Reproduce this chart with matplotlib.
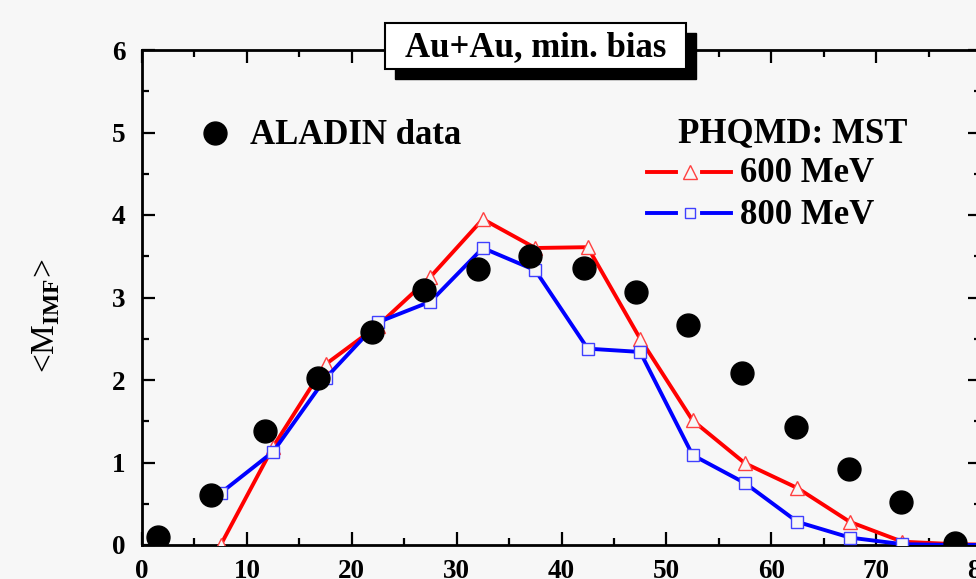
import matplotlib
matplotlib.use("Agg")
import matplotlib.pyplot as plt
from matplotlib.patches import Rectangle
from matplotlib.ticker import MultipleLocator

plt.rcParams['font.family'] = ['Liberation Serif', 'DejaVu Serif']
plt.rcParams['mathtext.fontset'] = 'custom'
plt.rcParams['mathtext.rm'] = 'Liberation Serif'
plt.rcParams['mathtext.bf'] = 'Liberation Serif:bold'

# ALADIN data
data_x = [1.5, 6.6, 11.7, 16.8, 21.9, 26.9, 32.0, 37.0, 42.1, 47.1, 52.1, 57.2, 62.4, 67.4, 72.4, 77.5]
data_y = [0.10, 0.61, 1.38, 2.02, 2.58, 3.09, 3.35, 3.50, 3.36, 3.07, 2.67, 2.08, 1.43, 0.92, 0.52, 0.02]

# PHQMD: MST
sim_x = [7.5, 12.5, 17.5, 22.5, 27.5, 32.5, 37.5, 42.5, 47.5, 52.5, 57.5, 62.5, 67.5, 72.5, 77.5, 82.5]
mev600 = [0.00, 1.19, 2.19, 2.66, 3.25, 3.95, 3.60, 3.61, 2.50, 1.51, 0.99, 0.69, 0.28, 0.04, 0.01, 0.0]
mev800 = [0.63, 1.13, 2.02, 2.70, 2.95, 3.60, 3.33, 2.38, 2.34, 1.09, 0.75, 0.28, 0.09, 0.01, 0.0, 0.0]

xticks = [0, 10, 20, 30, 40, 50, 60, 70, 80]
yticks = [0, 1, 2, 3, 4, 5, 6]

W, H = 976, 579
bg = '#f7f7f7'
fig = plt.figure(figsize=(W / 100, H / 100), dpi=100, facecolor=bg)
ax = fig.add_axes([142 / W, 1 - 545 / H, 839 / W, 495 / H])
ax.set_facecolor(bg)

ax.plot(sim_x, mev600, '-', color='#ff0000', lw=2.8, marker='^', ms=10,
        mfc=bg, mec='#ff4040', mew=1.0, zorder=3)
ax.plot(sim_x, mev800, '-', color='#0000ff', lw=2.8, marker='s', ms=8,
        mfc=bg, mec='#4040ff', mew=1.0, zorder=3)
ax.plot(data_x, data_y, 'o', color='black', ms=16.5, zorder=4)

ax.set_xlim(0, 80)
ax.set_ylim(0, 6)
ax.set_xticks(xticks)
ax.set_yticks(yticks)
ax.xaxis.set_minor_locator(MultipleLocator(5))
ax.yaxis.set_minor_locator(MultipleLocator(0.5))
ax.tick_params(which='both', direction='in', top=True, right=True, width=1.6)
ax.tick_params(which='major', length=9.5, labelsize=19.5)
ax.tick_params(which='minor', length=5)
ax.tick_params(axis='x', pad=10)
ax.tick_params(axis='y', pad=12)
for lab in ax.get_xticklabels() + ax.get_yticklabels():
    lab.set_fontweight('bold')
for s in ax.spines.values():
    s.set_linewidth(2.0)

def ax_pt(px, py):
    return ((px - 142) / 839, (545 - py) / 495)

FS = 25
# legend
bx, by = ax_pt(215, 133)
ax.plot([bx], [by], 'o', color='black', ms=16.5, transform=ax.transAxes, clip_on=False)
tx, ty = ax_pt(250, 135)
ax.text(tx, ty, 'ALADIN data', transform=ax.transAxes, fontsize=FS,
        fontweight='bold', va='center', ha='left')
tx, ty = ax_pt(678, 134)
ax.text(tx, ty, 'PHQMD: MST', transform=ax.transAxes, fontsize=FS,
        fontweight='bold', va='center', ha='left')
for py, col, mcol, mk, ms, lab in [(172, '#ff0000', '#ff4040', '^', 10, '600 MeV'),
                                     (213, '#0000ff', '#4040ff', 's', 7.5, '800 MeV')]:
    x1, y1 = ax_pt(647, py)
    x2, _ = ax_pt(676, py)
    x3, _ = ax_pt(702, py)
    x4, _ = ax_pt(731, py)
    xm, _ = ax_pt(690, py)
    ax.plot([x1, x2], [y1, y1], color=col, lw=2.8, transform=ax.transAxes, clip_on=False)
    ax.plot([x3, x4], [y1, y1], color=col, lw=2.8, transform=ax.transAxes, clip_on=False)
    ax.plot([xm], [y1], marker=mk, ms=ms, mfc=bg, mec=mcol, mew=1.0,
            transform=ax.transAxes, clip_on=False)
    tx, ty = ax_pt(740, py + 2)
    ax.text(tx, ty, lab, transform=ax.transAxes, fontsize=FS,
            fontweight='bold', va='center', ha='left')

# title box with shadow
bx0, bx1, by0, by1 = 385, 686, 23, 69
fig.patches.append(Rectangle(((bx0 + 10) / W, 1 - (by1 + 10) / H), (bx1 - bx0) / W,
                             (by1 - by0) / H, transform=fig.transFigure,
                             facecolor='black', edgecolor='black', zorder=5))
fig.patches.append(Rectangle((bx0 / W, 1 - by1 / H), (bx1 - bx0) / W,
                             (by1 - by0) / H, transform=fig.transFigure,
                             facecolor='white', edgecolor='black', lw=1.5, zorder=6))
fig.text((bx0 + bx1) / 2 / W, 1 - 48 / H, 'Au+Au, min. bias', fontsize=25,
         fontweight='bold', ha='center', va='center', zorder=7)

# y label
fig.text(46 / W, 1 - 316 / H, r'<M$_{\mathbf{IMF}}$>', rotation=90,
         fontsize=24, ha='center', va='center')

fig.savefig('out.png', dpi=100, facecolor=bg)
